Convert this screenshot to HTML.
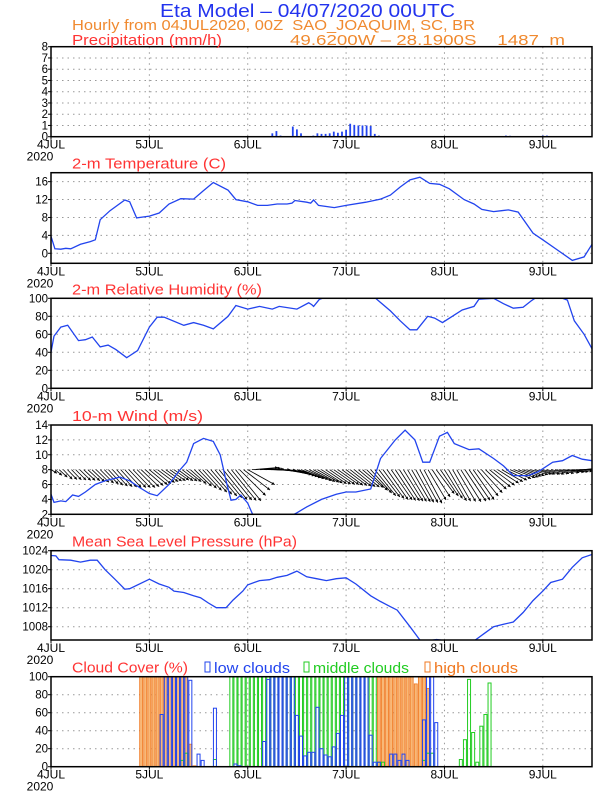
<!DOCTYPE html>
<html><head><meta charset="utf-8"><style>
body{margin:0;background:#fff}
svg{display:block;font-family:"Liberation Sans",sans-serif}
text{white-space:pre}
</style></head><body>
<svg id="c" width="612" height="792" viewBox="0 0 612 792">
<text x="160" y="17" textLength="295" lengthAdjust="spacingAndGlyphs" fill="#2233ee" font-size="18">Eta Model – 04/07/2020 00UTC</text>
<text x="72" y="30" textLength="403" lengthAdjust="spacingAndGlyphs" fill="#f08a30" font-size="15">Hourly from 04JUL2020, 00Z  SAO_JOAQUIM, SC, BR</text>
<text x="290" y="45" textLength="275" lengthAdjust="spacingAndGlyphs" fill="#f08a30" font-size="15">49.6200W – 28.1900S    1487  m</text>
</svg>
<script>
const days=["4JUL","5JUL","6JUL","7JUL","8JUL","9JUL"];
const precipHours=[54,55,56,59,60,61,64,65,66,67,68,69,70,71,72,73,74,75,76,77,78,79,80,81,111,112,113,120,121];
const precipVals=[0.3,0.5,0.1,0.9,0.65,0.3,0.1,0.3,0.25,0.25,0.3,0.45,0.35,0.45,0.6,1.15,1.05,1.0,1.0,1.0,0.95,0.25,0.1,0.05,0.1,0.08,0.05,0.1,0.1];
const tempDays=[0,0.04,0.1,0.15,0.2,0.3,0.4,0.45,0.5,0.6,0.75,0.8,0.87,1.0,1.1,1.2,1.32,1.45,1.55,1.65,1.8,1.88,2.0,2.1,2.2,2.3,2.4,2.45,2.48,2.6,2.64,2.67,2.72,2.88,3.0,3.2,3.35,3.45,3.55,3.65,3.75,3.85,3.95,4.05,4.2,4.3,4.38,4.5,4.58,4.65,4.75,4.9,5.0,5.15,5.3,5.42,5.5];
const tempVals=[3.8,1.0,0.9,1.1,1.0,2.0,2.6,3.0,7.5,9.5,11.9,11.5,7.9,8.3,9.0,11,12.2,12.1,14.0,15.8,14.1,12.0,11.5,10.7,10.7,11.0,11.0,11.2,11.8,11.4,11.2,11.9,10.7,10.2,10.7,11.4,12.1,13.0,14.8,16.4,17.0,15.6,15.4,14.4,12.0,11.0,9.8,9.3,9.5,9.7,9.2,4.5,3.0,0.7,-1.6,-0.8,2.0];
const rhDays=[0,0.03,0.1,0.17,0.28,0.35,0.42,0.5,0.58,0.66,0.77,0.88,1.0,1.08,1.15,1.35,1.45,1.55,1.65,1.8,1.88,2.0,2.12,2.25,2.32,2.5,2.62,2.65,2.67,2.73,2.76,3.3,3.45,3.55,3.65,3.72,3.83,3.9,3.98,4.08,4.18,4.3,4.35,4.5,4.6,4.7,4.8,4.88,4.92,5.2,5.25,5.32,5.42,5.5];
const rhVals=[40,58,68,70,53,54,57,46,48,43,34,42,68,79,79,70,73,70,66,80,92,88,91,88,91,88,95,93,91,99,100,100,86,75,65,65,80,78,73,80,87,91,99,100,94,89,90,97,100,100,98,75,60,44];
const wsDays=[0,0.03,0.1,0.15,0.22,0.28,0.35,0.45,0.55,0.7,0.8,0.9,1.0,1.08,1.2,1.3,1.38,1.45,1.55,1.65,1.72,1.78,1.83,1.88,1.93,2.0,2.05,2.1,2.35,2.5,2.6,2.75,2.9,3.0,3.1,3.25,3.35,3.5,3.6,3.7,3.78,3.85,3.95,4.03,4.1,4.25,4.35,4.5,4.6,4.7,4.85,4.95,5.1,5.2,5.3,5.4,5.5];
const wsVals=[4.7,3.6,3.8,3.7,4.6,4.4,5.0,6.0,6.5,7.0,6.5,5.6,4.8,4.5,6.0,7.8,9.0,11.5,12.2,11.8,10.0,6.5,3.9,4.0,4.6,3.5,2.0,1.2,1.2,2.2,3.0,4.0,4.7,5.0,5.0,5.4,9.5,12.0,13.3,12.0,9.0,9.0,12.5,13.0,11.5,10.7,10.8,9.5,8.5,7.2,7.2,7.7,9.0,9.2,9.9,9.4,9.2];
// hourly wind vectors from h0: u east, v north (m/s)
const windU=[2,2.3,2.7,3,3.2,3.3,3.5,3.7,3.8,4,4.2,4.3,4.5,4.7,4.8,5,5.2,5.3,5.5,5.7,5.8,6,6,6,6,5.8,5.7,5.5,5.3,5.2,5,5,5,5,5.3,5.7,6,6.3,6.7,7,7.3,7.7,8,8.2,8.3,8.5,8.7,8.8,9,8.7,8.3,8,8.7,9.3,10,9.7,9.3,9,8.7,8.3,8,7.8,7.7,7.5,7.3,7.2,7,7,7,7,7,7,7,7,7,7,7,7,7,7,7,7,7,7,6.8,6.7,6.5,6.3,6.2,6,6,6,6,6,6,6,6,6,6,6.3,6.7,7,7,7,7,7,7,7,7,7,7,7,7,7,6.7,6.3,6,5.8,5.7,5.5,5.7,5.8,6,6.3,6.7,7,7,7,7,7,7,7,7,7,7,7,7,7,7];
const windV=[-1.2,-1.9,-2.5,-3.2,-3.3,-3.4,-3.5,-3.6,-3.6,-3.7,-4,-4.2,-4.5,-4.8,-5.2,-5.5,-5.7,-5.8,-6,-6,-6,-6,-5.7,-5.3,-5,-4.7,-4.3,-4,-3.8,-3.7,-3.5,-3.7,-3.8,-4,-4.7,-5.5,-6.2,-6.9,-7.5,-8.2,-8.8,-9.4,-10,-10.1,-10.3,-10.4,-8.6,-6.8,-5,0.7,0.5,0.2,0,-0.2,-0.5,-0.7,-1.1,-1.6,-2,-2.3,-2.7,-3,-3.3,-3.7,-4,-4.2,-4.5,-4.7,-4.8,-4.9,-5,-5.2,-5.3,-5.5,-5.7,-5.8,-6,-6.9,-7.8,-8.7,-9.1,-9.6,-10,-10.1,-10.3,-10.4,-10.5,-10.6,-10.7,-10.9,-11,-11.2,-10.1,-9.1,-8,-8.8,-9.6,-10.4,-10.5,-10.6,-10.7,-10.5,-10.2,-10,-8.8,-7.7,-6.5,-5.8,-5.2,-4.5,-4,-3.5,-3,-2.7,-2.5,-2.2,-2,-1.7,-1.5,-1.5,-1.5,-1.5,-1.3,-1.2,-1,-0.8,-0.7,-0.5,-0.1,0.3,0.7];
const mslpDays=[0,0.05,0.08,0.2,0.3,0.4,0.47,0.55,0.65,0.75,0.8,1.0,1.1,1.2,1.25,1.35,1.45,1.52,1.6,1.68,1.78,1.85,1.95,2.0,2.12,2.22,2.3,2.4,2.5,2.6,2.7,2.8,2.9,3.0,3.1,3.25,3.35,3.45,3.52,3.65,3.75,3.8,3.85,3.92,4.0,4.1,4.3,4.4,4.5,4.6,4.7,4.8,4.9,5.0,5.08,5.2,5.3,5.4,5.5];
const mslpVals=[1023,1022.9,1022.1,1022,1021.6,1022,1022,1020,1018,1015.9,1016,1018,1017,1016.3,1015.5,1015.2,1014.5,1014.1,1013,1012,1012,1013.6,1015.5,1016.8,1017.7,1017.9,1018.4,1018.8,1019.7,1018.5,1018.1,1017.7,1018.1,1018.3,1017,1014.5,1013.3,1012.2,1011.5,1008,1005.2,1004.7,1005.1,1005.3,1005.1,1004.5,1005,1006.5,1008,1008.5,1009,1011,1013.5,1015.5,1017.3,1018,1020.5,1022.5,1023.2];
// hourly cloud cover h0..h132
const lowCloud=[0,0,0,0,0,0,0,0,0,0, 0,0,0,0,0,0,0,0,0,0, 0,0,0,0,0,0,0,58,100,100, 100,100,100,100,96,0,14,7,0,0, 65,0,0,0,0,3,1,0,0,0, 0,0,28,97,100,100,100,100,100,100, 57,34,12,16,16,66,20,13,11,22, 37,57,100,100,100,100,100,100,35,5, 5,0,0,14,14,7,14,7,0,0, 0,52,100,100,49,0,0,0,0,0, 0,0,0,0,0,0,0,0,0,0, 0,0,0,0,0,0,0,0,0,0, 0,0,0,0,0,0,0,0,0,0, 0,0,0];
const midCloud=[0,0,0,0,0,0,0,0,0,0, 0,0,0,0,0,0,0,0,0,0, 0,0,0,0,0,0,0,0,0,0, 0,0,7,15,0,0,0,0,0,0, 8,0,0,0,100,100,100,100,100,100, 100,100,100,100,100,100,100,100,100,100, 100,100,100,100,100,100,100,100,100,100, 100,100,100,100,100,100,100,100,100,100, 5,5,0,0,0,0,0,0,0,0, 0,7,15,15,0,0,0,0,0,0, 8,30,97,38,5,45,58,93,0,0, 0,0,0,0,0,0,0,0,0,0, 0,0,0,0,0,0,0,0,0,0, 0,0,0];
const highCloud=[0,0,0,0,0,0,0,0,0,0, 0,0,0,0,0,0,0,0,0,0, 0,0,100,100,100,100,100,100,100,100, 100,100,100,100,25,1,0,0,0,0, 0,0,0,0,0,0,0,0,0,0, 0,0,0,0,0,0,0,0,0,0, 0,0,0,0,0,0,0,0,0,0, 0,0,0,0,0,0,0,0,0,0, 100,100,100,100,100,100,100,100,100,92, 100,100,87,0,0,0,0,0,0,0, 0,0,0,0,0,0,0,0,0,0, 0,0,0,0,0,0,0,0,0,0, 0,0,0,0,0,0,0,0,0,0, 0,0,0];

const NS="http://www.w3.org/2000/svg";
const svg=document.getElementById('c');
const X0=51,X1=592,NDAYS=5.5;
const xd=d=>X0+(X1-X0)*d/NDAYS;
const xh=h=>xd(h/24);
function mk(tag,attrs,parent){const e=document.createElementNS(NS,tag);for(const k in attrs)e.setAttribute(k,attrs[k]);(parent||svg).appendChild(e);return e;}
let clipId=0;
function panel(name,top,bot,min,max,ticks,title,tlen){
  const g=mk('g',{});
  
  
  const y=v=>bot-(bot-top)*(v-min)/(max-min);
  ticks.forEach(t=>{
    if(y(t)>top+1&&y(t)<bot-1){const l=mk('line',{x1:X0,x2:X1,y1:y(t),y2:y(t),stroke:'#999','stroke-dasharray':'1.5,4'},g);}
    const tx=mk('text',{x:X0-3,y:y(t)+4,'text-anchor':'end','font-size':'11.5',fill:'#000'},g);
    tx.textContent=t;
    mk('line',{x1:X0-3,x2:X0,y1:y(t),y2:y(t),stroke:'#000'},g);
  });
  for(let d=1;d<=5;d++){const l=mk('line',{x1:xd(d),x2:xd(d),y1:top,y2:bot,stroke:'#999','stroke-dasharray':'1.5,4'},g);}
  days.forEach((s,i)=>{const tx=mk('text',{x:xd(i),y:bot+12,'text-anchor':'middle','font-size':'12',fill:'#000'},g);tx.textContent=s;mk('line',{x1:xd(i),x2:xd(i),y1:bot,y2:bot+3,stroke:'#000'},g);});
  const yr=mk('text',{x:X0-11,y:bot+24,'text-anchor':'middle','font-size':'12',fill:'#000'},g);
  yr.textContent='2020';
  if(title){const tt=mk('text',{x:72,y:top-4,'font-size':'15',fill:'#ff3333',textLength:tlen,lengthAdjust:'spacingAndGlyphs'},g);tt.textContent=title;}
  const id='cp'+(clipId++);
  const cp=mk('clipPath',{id:id},g);mk('rect',{x:X0,y:top,width:X1-X0,height:bot-top},cp);
  const inner=mk('g',{'clip-path':'url(#'+id+')'},g);
  return {g,inner,y,top,bot,frame:()=>{const r=mk('rect',{x:X0,y:top,width:X1-X0,height:bot-top,fill:'none',stroke:'#000','stroke-width':1.5},g);}};
}
function line(p,dd,vv,name){
  const pts=dd.map((d,i)=>xd(d).toFixed(1)+','+p.y(vv[i]).toFixed(1)).join(' ');
  const l=mk('polyline',{points:pts,fill:'none',stroke:'#2244ee','stroke-width':1.3},p.inner);
  
}
// precipitation
const pp=panel('precipitation',46.7,136.7,0,8,[0,1,2,3,4,5,6,7,8],null);
precipHours.forEach((h,i)=>{const b=mk('rect',{x:xh(h)-0.9,y:pp.y(precipVals[i]),width:1.8,height:pp.bot-pp.y(precipVals[i]),fill:'#2244ee'},pp.inner);});
mk('line',{x1:X0,x2:X1,y1:pp.bot,y2:pp.bot,stroke:'#2244ee','stroke-width':1},pp.inner);
pp.frame();
const pt=mk('text',{x:72,y:45,'font-size':'15',fill:'#ff3333',textLength:150,lengthAdjust:'spacingAndGlyphs'});pt.textContent='Precipitation (mm/h)';
// temperature
const tp=panel('temperature',172.7,263.3,-2.24,18,[0,4,8,12,16],'2-m Temperature (C)',154);
line(tp,tempDays,tempVals,'temperature-line');tp.frame();
// RH
const rp=panel('humidity',298.3,388.3,0,100,[0,20,40,60,80,100],'2-m Relative Humidity (%)',190);
line(rp,rhDays,rhVals,'humidity-line');rp.frame();
// wind
const wp=panel('wind',425,514.3,2,14,[2,4,6,8,10,12,14],'10-m Wind (m/s)',131);
const K=3;
const nA=Math.min(windU.length,windV.length,133);
for(let i=0;i<nA;i++){
  const u=windU[i];
  const bx=xh(i),by=wp.y(8),tx=bx+u*K,ty=by-windV[i]*K;
  const a=mk('g',{},wp.inner);
  
  
  mk('line',{x1:bx,y1:by,x2:tx,y2:ty,stroke:'#000','stroke-width':0.8},a);
  const ang=Math.atan2(ty-by,tx-bx),L=3.2,s=0.5;
  mk('polygon',{points:`${tx},${ty} ${tx-L*Math.cos(ang-s)},${ty-L*Math.sin(ang-s)} ${tx-L*Math.cos(ang+s)},${ty-L*Math.sin(ang+s)}`,fill:'#000'},a);
}
line(wp,wsDays,wsVals,'wind-speed-line');
wp.frame();
// MSLP
const mp=panel('pressure',550.7,640,1005.2,1024,[1008,1012,1016,1020,1024],'Mean Sea Level Pressure (hPa)',225);
line(mp,mslpDays,mslpVals,'pressure-line');mp.frame();
// clouds
const cp=panel('cloud',676.7,766.7,0,100,[0,20,40,60,80,100],'Cloud Cover (%)',116);
const bw=3;
highCloud.forEach((v,h)=>{if(v>0){const b=mk('rect',{x:xh(h)-bw/2,y:cp.y(v),width:bw,height:cp.bot-cp.y(v),fill:'#f8b878',stroke:'#f07820','stroke-width':0.8},cp.inner);}});
midCloud.forEach((v,h)=>{if(v>0){const b=mk('rect',{x:xh(h)-bw/2,y:cp.y(v),width:bw,height:cp.bot-cp.y(v),fill:'none',stroke:'#22cc22','stroke-width':1},cp.inner);}});
lowCloud.forEach((v,h)=>{if(v>0){const b=mk('rect',{x:xh(h)-bw/2,y:cp.y(v),width:bw,height:cp.bot-cp.y(v),fill:'none',stroke:'#2244ee','stroke-width':1},cp.inner);}});
mk('line',{x1:X0,x2:X1,y1:cp.bot,y2:cp.bot,stroke:'#2244ee','stroke-width':1.5},cp.inner);
cp.frame();
[['low clouds','#2244ee',205,76],['middle clouds','#22cc22',304,96],['high clouds','#f07820',425,84]].forEach(([t,c,x,w])=>{
  const g=mk('g',{});
  
  
  mk('rect',{x:x,y:662,width:5,height:10,fill:'none',stroke:c,'stroke-width':1},g);
  const tx=mk('text',{x:x+9,y:673,'font-size':'15',fill:c,textLength:w,lengthAdjust:'spacingAndGlyphs'},g);tx.textContent=t;
});
</script>
</body></html>
